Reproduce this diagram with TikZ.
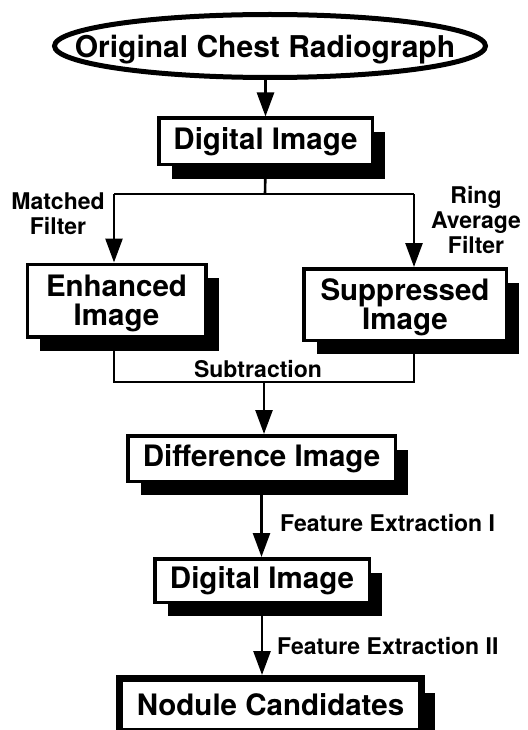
\documentclass[tikz,border=0pt]{standalone}
\usepackage{fontspec}
\setmainfont{TeX Gyre Heros}
\usetikzlibrary{shapes.geometric,shadows,arrows.meta}
\begin{document}
\begin{tikzpicture}[x=1pt,y=-1pt,
  box/.style={draw, line width=3.5pt, fill=white, inner sep=0pt, align=center,
    font=\bfseries\fontsize{29.5}{29}\selectfont,
    drop shadow={shadow xshift=13pt, shadow yshift=-14pt, fill=black, opacity=1}},
  conn/.style={line width=2.6pt},
  arr/.style={conn, -{Triangle[width=17pt,length=24pt]}},
  lab/.style={inner sep=0pt, align=center, font=\bfseries\fontsize{23}{25}\selectfont}]
\useasboundingbox (0,0) rectangle (527,730);
\clip (0,0) rectangle (527,730);

\node[draw, ellipse, line width=5pt, minimum width=431pt, minimum height=63pt,
      inner sep=0pt, text depth=0pt, font=\bfseries\fontsize{30}{34}\selectfont] (ell) at (270,46)
  {\makebox[0pt]{\kern-10pt Original Chest Radiograph}};

\node[box, minimum width=213.5pt, minimum height=46.5pt] (dig1) at (265.5,141.5) {Digital Image};
\node[box, text depth=0pt, minimum width=178.5pt, minimum height=72.5pt] (enh) at (116.5,300.5) {Enhanced\\Image};
\node[box, text depth=0pt, minimum width=202.5pt, minimum height=71.5pt] (sup) at (405,304.5) {Suppressed\\Image};
\node[box, minimum width=267.5pt, minimum height=45.5pt] (diff) at (261.5,458.5) {Difference Image};
\node[box, minimum width=214.5pt, minimum height=43.5pt] (dig2) at (262,580.5) {Digital Image};
\node[box, line width=7pt, drop shadow={opacity=0}, minimum width=302pt, minimum height=53pt] (nod) at (270.5,705) {Nodule Candidates};

\coordinate (split) at (265,194);
\coordinate (lsplit) at (114,194);
\coordinate (rsplit) at (414,194);
\coordinate (ljoin) at (114,382);
\coordinate (rjoin) at (414,382);
\coordinate (join) at (264,382);

\draw[arr] (dig1.north |- ell.south) -- (dig1.north);
\draw[conn] (dig1.south) -- (split);
\draw[conn] (lsplit) -- (rsplit);
\draw[arr] (lsplit) -- (lsplit |- enh.north);
\draw[arr] (rsplit) -- (rsplit |- sup.north);
\draw[conn] (lsplit |- enh.south) -- (ljoin) -- (rjoin) -- (rsplit |- sup.south);
\draw[arr] (join) -- (join |- diff.north);
\draw[arr] (diff.south) -- (diff.south |- dig2.north);
\draw[arr] (dig2.south) -- (dig2.south |- nod.north);

\node[lab] (lmf) at (58,214) {Matched\\Filter};
\node[lab] (lraf) at (476,220) {Ring\\Average\\Filter};
\node[lab] (lsub) at (258,369) {Subtraction};
\node[lab, anchor=west] (lfe1) at (280,523) {Feature Extraction I};
\node[lab, anchor=west] (lfe2) at (277,646) {Feature Extraction II};
\end{tikzpicture}
\end{document}
